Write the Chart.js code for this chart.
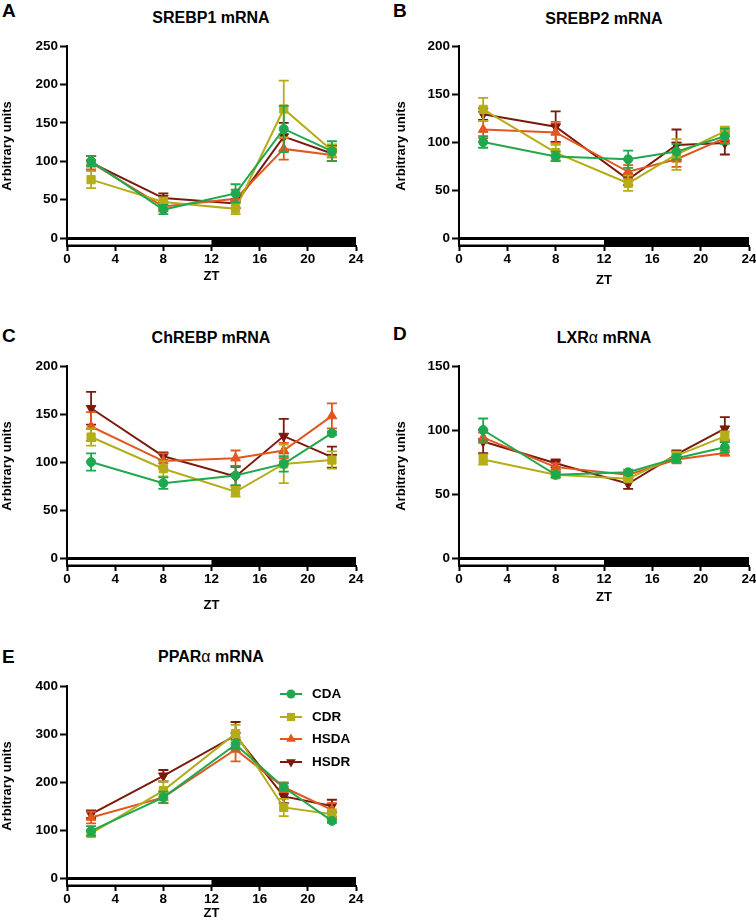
<!DOCTYPE html>
<html><head><meta charset="utf-8">
<script src="https://cdn.jsdelivr.net/npm/chart.js@4.4.1/dist/chart.umd.min.js"></script>
<style>
html,body{margin:0;padding:0;background:#fff;overflow:hidden;width:756px;height:921px;}
body{position:relative;font-family:'Liberation Sans',Arial,sans-serif;color:#000;}
canvas.cv{position:absolute;}
.letter{position:absolute;font-weight:bold;font-size:19px;line-height:19px;}
.title{position:absolute;font-weight:bold;font-size:16px;line-height:16px;text-align:center;width:300px;white-space:nowrap;}
.lg{position:absolute;height:14px;display:flex;align-items:center;font-weight:bold;font-size:13.5px;line-height:14px;}
.lg canvas{margin-right:10px;}
</style>
</head><body>

<div class="letter" style="left:2px;top:1px">A</div>
<div class="letter" style="left:393px;top:1px">B</div>
<div class="letter" style="left:2px;top:326px">C</div>
<div class="letter" style="left:393px;top:324px">D</div>
<div class="letter" style="left:2px;top:647px">E</div>

<div class="title" style="left:61px;top:9.5px">SREBP1 mRNA</div>
<div class="title" style="left:454px;top:10.5px">SREBP2 mRNA</div>
<div class="title" style="left:61px;top:329.5px">ChREBP mRNA</div>
<div class="title" style="left:454px;top:329.5px">LXR<span style="font-weight:normal">α</span> mRNA</div>
<div class="title" style="left:61px;top:648.5px">PPAR<span style="font-weight:normal">α</span> mRNA</div>

<canvas id="cA" class="cv" width="378" height="254" style="left:0px;top:30px"></canvas>
<canvas id="cB" class="cv" width="374" height="258" style="left:392px;top:30px"></canvas>
<canvas id="cC" class="cv" width="378" height="293" style="left:0px;top:320px"></canvas>
<canvas id="cD" class="cv" width="374" height="285" style="left:392px;top:320px"></canvas>
<canvas id="cE" class="cv" width="378" height="281" style="left:0px;top:640px"></canvas>

<div id="legend"></div>

<script>
// ---------- data ----------
const zt = [2, 8, 14, 18, 22];
const groupNames = ['CDA', 'CDR', 'HSDA', 'HSDR'];
const xTicks = [0, 4, 8, 12, 16, 20, 24];
const lightDark = [0, 12, 24]; // light phase 0-12, dark phase 12-24

// SREBP1 mRNA (order: CDA, CDR, HSDA, HSDR)
const srebp1Mean = [
  [100, 37, 58, 142, 113],
  [76, 47, 38, 168, 114],
  [98, 41, 51, 116, 108],
  [98, 52, 45, 132, 110]
];
const srebp1Sem = [
  [7, 6, 12, 30, 13],
  [11, 6, 7, 37, 8],
  [9, 6, 12, 14, 8],
  [9, 6, 6, 18, 10]
];
const srebp1Ticks = [0, 50, 100, 150, 200, 250];

// SREBP2 mRNA
const srebp2Mean = [
  [100, 85, 82, 90, 106],
  [134, 89, 57, 87, 111],
  [113, 110, 69, 82, 104],
  [129, 116, 61, 97, 99]
];
const srebp2Sem = [
  [6, 5, 9, 8, 8],
  [12, 8, 8, 16, 5],
  [9, 11, 7, 8, 5],
  [6, 16, 6, 16, 12]
];
const srebp2Ticks = [0, 50, 100, 150, 200];

// ChREBP mRNA
const chrebpMean = [
  [100, 78, 86, 98, 130],
  [126, 93, 69, 98, 102],
  [137, 101, 104, 112, 148],
  [156, 106, 85, 127, 105]
];
const chrebpSem = [
  [9, 6, 10, 8, 2],
  [9, 8, 5, 20, 9],
  [15, 8, 8, 8, 13],
  [17, 4, 10, 18, 11]
];
const chrebpTicks = [0, 50, 100, 150, 200];

// LXRα mRNA
const lxraMean = [
  [100, 65, 67, 78, 86.5],
  [77, 65, 62, 80, 95],
  [94, 71, 65, 77, 82],
  [91, 74, 58, 81, 101]
];
const lxraSem = [
  [9, 2, 2, 3, 4],
  [4, 2, 2, 3, 4],
  [4, 3, 2, 3, 2],
  [9, 3, 4, 3, 9]
];
const lxraTicks = [0, 50, 100, 150];

// PPARα mRNA
const pparaMean = [
  [98, 168, 278, 189, 119],
  [93, 182, 301, 147, 133],
  [126, 168, 268, 189, 142],
  [133, 213, 297, 170, 150]
];
const pparaSem = [
  [10, 12, 10, 8, 4],
  [6, 20, 18, 18, 10],
  [12, 12, 25, 10, 14],
  [8, 12, 28, 14, 13]
];
const pparaTicks = [0, 100, 200, 300, 400];

// ---------- styles ----------
const seriesStyle = [
  {color: '#1fa84e', pointStyle: 'circle', radius: 4.5, rotation: 0},
  {color: '#b4ad17', pointStyle: 'rect', radius: 5.8, rotation: 0},
  {color: '#e1571d', pointStyle: 'triangle', radius: 5.6, rotation: 0},
  {color: '#7b190d', pointStyle: 'triangle', radius: 5.6, rotation: 180}
];
const FONT = "'Liberation Sans', Arial, Helvetica, sans-serif";
Chart.defaults.font.family = FONT;
Chart.defaults.color = '#000';

const dayNightBar = {
  id: 'dayNightBar',
  beforeDatasetsDraw(chart) {
    const {ctx, scales: {x, y}} = chart;
    const x0 = x.getPixelForValue(lightDark[0]);
    const x12 = x.getPixelForValue(lightDark[1]);
    const x24 = x.getPixelForValue(lightDark[2]);
    const yTop = y.getPixelForValue(0);
    const yBot = y.getPixelForValue(y.min);
    ctx.save();
    ctx.fillStyle = '#000';
    ctx.fillRect(x0, yTop - 1, x24 - x0, yBot - yTop + 1);
    ctx.fillStyle = '#fff';
    ctx.fillRect(x0 + 1, yTop + 2, x12 - x0 - 1, yBot - yTop - 3.5);
    ctx.restore();
  }
};

const errorBars = {
  id: 'errorBars',
  afterDatasetDraw(chart, args) {
    const ds = chart.data.datasets[args.index];
    if (!ds.sem) return;
    const y = chart.scales.y;
    const ctx = chart.ctx;
    ctx.save();
    ctx.strokeStyle = ds.borderColor;
    ctx.lineWidth = 1.8;
    args.meta.data.forEach((pt, i) => {
      const v = ds.data[i].y, e = ds.sem[i];
      const yt = y.getPixelForValue(v + e), yb = y.getPixelForValue(v - e);
      const px = pt.x;
      ctx.beginPath();
      ctx.moveTo(px, yt); ctx.lineTo(px, yb);
      ctx.moveTo(px - 5, yt); ctx.lineTo(px + 5, yt);
      ctx.moveTo(px - 5, yb); ctx.lineTo(px + 5, yb);
      ctx.stroke();
    });
    ctx.restore();
  }
};

function makeChart(id, means, sems, yTicks, geom) {
  const yMax = yTicks[yTicks.length - 1];
  const datasets = groupNames.map((g, k) => ({
    label: g,
    data: zt.map((t, i) => ({x: t, y: means[k][i]})),
    sem: sems[k],
    borderColor: seriesStyle[k].color,
    backgroundColor: seriesStyle[k].color,
    borderWidth: 2,
    pointStyle: seriesStyle[k].pointStyle,
    pointRadius: seriesStyle[k].radius,
    pointRotation: seriesStyle[k].rotation,
    pointBorderWidth: 1,
    tension: 0,
    fill: false,
    clip: false
  }));
  return new Chart(document.getElementById(id), {
    type: 'line',
    data: {datasets},
    options: {
      responsive: false,
      animation: false,
      events: [],
      layout: {padding: {left: 0, right: geom.padRight, top: geom.padTop, bottom: 0}},
      plugins: {legend: {display: false}, tooltip: {enabled: false}},
      scales: {
        x: {
          type: 'linear', min: 0, max: 24,
          afterBuildTicks: s => { s.ticks = xTicks.map(v => ({value: v})); },
          afterFit: s => { s.height = geom.xAxisH; },
          border: {display: true, color: '#000', width: 2},
          grid: {display: true, drawOnChartArea: false, drawTicks: true, tickLength: 5, tickWidth: 2, tickColor: '#000', color: '#000'},
          ticks: {color: '#000', font: {size: 13.5, weight: 'bold'}, padding: 0, maxRotation: 0, autoSkip: false},
          title: {display: true, text: 'ZT', color: '#000', font: {size: 13, weight: 'bold'}, padding: {top: 0, bottom: 0}}
        },
        y: {
          type: 'linear', min: -yMax / 24, max: yMax,
          afterBuildTicks: s => { s.ticks = yTicks.map(v => ({value: v})); },
          afterFit: s => { s.width = 67; },
          border: {display: true, color: '#000', width: 2},
          grid: {display: true, drawOnChartArea: false, drawTicks: true, tickLength: 7, tickWidth: 2, tickColor: '#000', color: '#000'},
          ticks: {color: '#000', font: {size: 13.5, weight: 'bold'}, padding: 2, autoSkip: false},
          title: {display: true, text: 'Arbitrary units', color: '#000', font: {size: 13, weight: 'bold'}, padding: {top: geom.yTitlePad, bottom: 0}}
        }
      }
    },
    plugins: [dayNightBar, errorBars]
  });
}

makeChart('cA', srebp1Mean, srebp1Sem, srebp1Ticks, {padTop: 16, padRight: 22, xAxisH: 38, yTitlePad: 0});
makeChart('cB', srebp2Mean, srebp2Sem, srebp2Ticks, {padTop: 16, padRight: 17, xAxisH: 42, yTitlePad: 2});
makeChart('cC', chrebpMean, chrebpSem, chrebpTicks, {padTop: 46, padRight: 22, xAxisH: 47, yTitlePad: 0});
makeChart('cD', lxraMean, lxraSem, lxraTicks, {padTop: 46, padRight: 17, xAxisH: 39, yTitlePad: 2});
makeChart('cE', pparaMean, pparaSem, pparaTicks, {padTop: 46, padRight: 22, xAxisH: 35, yTitlePad: 0});

// ---------- legend (panel E) ----------
const legendRowY = [694, 716.5, 739, 761.5];
const legendHost = document.getElementById('legend');
groupNames.forEach((g, k) => {
  const row = document.createElement('div');
  row.className = 'lg';
  row.style.left = '280px';
  row.style.top = (legendRowY[k] - 7) + 'px';
  const ic = document.createElement('canvas');
  ic.width = 22; ic.height = 14;
  const c = ic.getContext('2d');
  const st = seriesStyle[k];
  c.strokeStyle = st.color; c.fillStyle = st.color; c.lineWidth = 2;
  c.beginPath(); c.moveTo(0, 7); c.lineTo(22, 7); c.stroke();
  const cx = 11, cy = 7;
  c.beginPath();
  if (st.pointStyle === 'circle') {
    c.arc(cx, cy, 4.5, 0, Math.PI * 2);
  } else if (st.pointStyle === 'rect') {
    c.rect(cx - 4.1, cy - 4.1, 8.2, 8.2);
  } else {
    const r = st.radius, s = st.rotation ? -1 : 1;
    c.moveTo(cx, cy - s * r);
    c.lineTo(cx + r * 0.866, cy + s * r * 0.5);
    c.lineTo(cx - r * 0.866, cy + s * r * 0.5);
    c.closePath();
  }
  c.fill();
  row.appendChild(ic);
  const t = document.createElement('span');
  t.textContent = g;
  row.appendChild(t);
  legendHost.appendChild(row);
});
</script>
</body></html>
